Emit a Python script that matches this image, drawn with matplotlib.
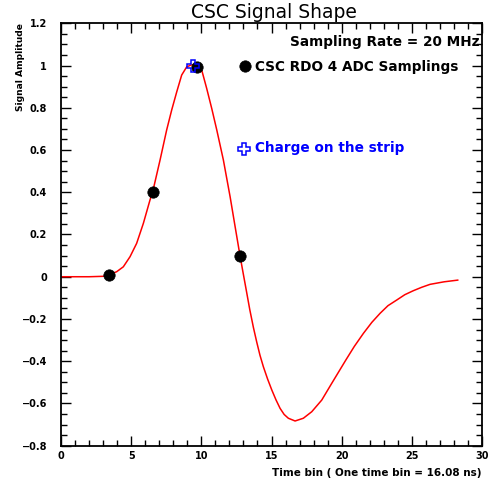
import matplotlib
matplotlib.use("Agg")
import matplotlib.pyplot as plt
from matplotlib.ticker import MultipleLocator, FormatStrFormatter, FuncFormatter

plt.rcParams['font.family'] = ['DejaVu Sans']

# Red signal-shape curve
curve_x = [0, 1, 2, 3.0, 3.42, 3.97, 4.44, 4.92, 5.39, 5.87, 6.34, 6.53, 7.06, 7.53,
           7.89, 8.25, 8.6, 8.96, 9.25, 9.55, 9.8, 10.03, 10.38, 10.74, 11.1, 11.57,
           12.05, 12.4, 12.76, 12.95, 13.2, 13.45, 13.71, 13.95, 14.18, 14.42, 14.72,
           15.02, 15.32, 15.61, 15.9, 16.2, 16.68, 17.27, 17.87, 18.58, 19.29, 20.3,
           20.9, 21.55, 22.15, 22.74, 23.3, 23.93, 24.5, 25.11, 25.7, 26.3, 27.3, 28.27]
curve_y = [0, 0, 0, 0.002, 0.008, 0.024, 0.047, 0.095, 0.158, 0.253, 0.363, 0.401, 0.553, 0.695,
           0.79, 0.876, 0.955, 0.994, 1.002, 1.005, 0.998, 0.978, 0.892, 0.797, 0.695, 0.553,
           0.379, 0.24, 0.098, 0.028, -0.063, -0.155, -0.24, -0.31, -0.372, -0.426, -0.484,
           -0.536, -0.583, -0.623, -0.652, -0.670, -0.683, -0.670, -0.639, -0.584, -0.505, -0.394,
           -0.33, -0.268, -0.216, -0.173, -0.137, -0.11, -0.085, -0.066, -0.05, -0.036, -0.024,
           -0.016]

# CSC RDO 4 ADC samplings
adc_x = [3.42, 6.53, 9.67, 12.76]
adc_y = [0.008, 0.401, 0.993, 0.098]

# Charge on the strip
charge_x = [9.39]
charge_y = [1.0]

title = "CSC Signal Shape"
xlabel = "Time bin ( One time bin = 16.08 ns)"
ylabel = "Signal Amplitude"
rate_text = "Sampling Rate = 20 MHz"
adc_label = "CSC RDO 4 ADC Samplings"
charge_label = "Charge on the strip"

W, H = 492, 483
fig = plt.figure(figsize=(W / 100, H / 100), dpi=100)
L, R, T, B = 61, 482, 23.3, 445.7
ax = fig.add_axes([L / W, 1 - B / H, (R - L) / W, (B - T) / H])

ax.plot(curve_x, curve_y, color='red', lw=1.1, zorder=2)
ax.plot(adc_x, adc_y, 'o', color='black', ms=8.2, mew=0.5, zorder=3, linestyle='none')
ax.plot(charge_x, charge_y, 'P', mfc='none', mec='blue', mew=1.1, ms=9, zorder=4, linestyle='none')

ax.set_xlim(0, 30)
ax.set_ylim(-0.8, 1.2)
ax.xaxis.set_major_locator(MultipleLocator(5))
ax.xaxis.set_minor_locator(MultipleLocator(1))
ax.yaxis.set_major_locator(MultipleLocator(0.2))
ax.yaxis.set_minor_locator(MultipleLocator(0.05))

def yfmt(v, pos):
    if abs(v) < 1e-9:
        return "0"
    if abs(v - round(v)) < 1e-9:
        return "%d" % round(v)
    return ("%.1f" % v).replace("-", "\u2212")

ax.yaxis.set_major_formatter(FuncFormatter(yfmt))
ax.xaxis.set_major_formatter(FormatStrFormatter('%d'))

ax.tick_params(which='both', direction='in', top=True, right=True, width=1.0, colors='black')
ax.tick_params(which='major', length=7)
ax.tick_params(which='minor', length=4)
ax.tick_params(axis='both', labelsize=7)
for lab in ax.get_xticklabels() + ax.get_yticklabels():
    lab.set_fontweight('bold')
ax.tick_params(axis='x', pad=4)
ax.tick_params(axis='y', pad=10)
for s in ax.spines.values():
    s.set_linewidth(1.3)

fig.text(274 / W, 1 - 18.3 / H, title, ha='center', va='baseline', fontsize=13.5)
fig.text(R / W, 1 - 476 / H, xlabel, ha='right', va='baseline', fontsize=7.5, fontweight='bold')
fig.text(21 / W, 1 - 23 / H, ylabel, ha='center', va='top', rotation=90, fontsize=6.6, fontweight='bold')

ax.text(0.993, 0.947, rate_text, transform=ax.transAxes, ha='right', va='baseline',
        fontsize=9.8, fontweight='bold')
ax.plot([0.437], [0.899], 'o', color='black', ms=8.2, mew=0.5, transform=ax.transAxes, clip_on=False)
ax.text(0.4608, 0.8873, adc_label, transform=ax.transAxes, ha='left', va='baseline',
        fontsize=9.8, fontweight='bold')
ax.plot([0.4347], [0.7024], 'P', mfc='none', mec='blue', mew=1.1, ms=9, transform=ax.transAxes, clip_on=False)
ax.text(0.4608, 0.696, charge_label, transform=ax.transAxes, ha='left', va='baseline',
        fontsize=9.8, color='blue', fontweight='bold')

fig.savefig('out.png', dpi=100)
